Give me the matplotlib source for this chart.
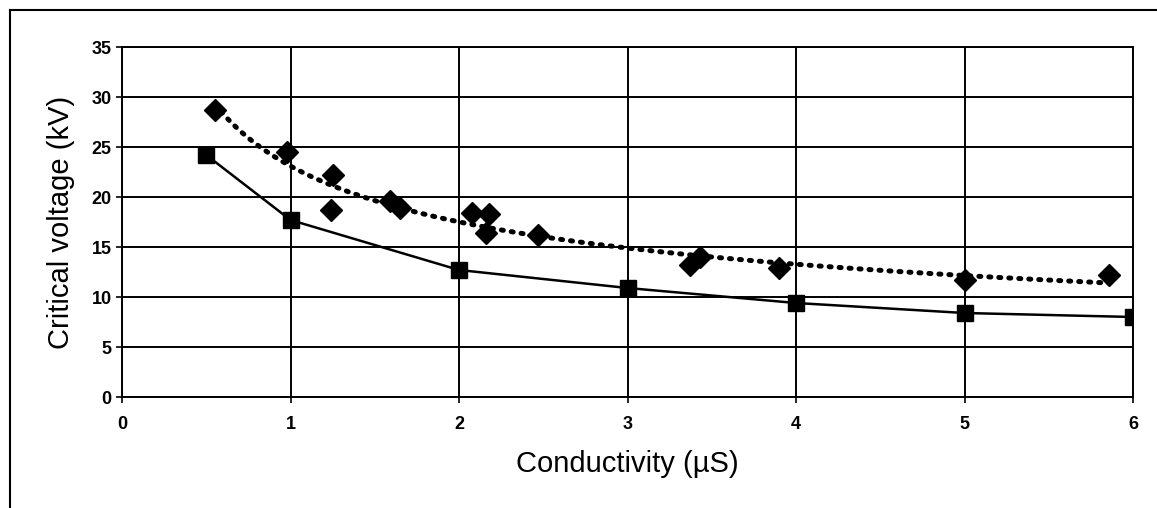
import numpy as np
import matplotlib.pyplot as plt
from matplotlib.lines import Line2D

plt.rcParams['font.family'] = ['Liberation Sans', 'DejaVu Sans']

# measured points (diamonds) and reference curve (squares)
meas_x = [0.55, 0.98, 1.25, 1.24, 1.59, 1.65, 2.08, 2.18, 2.16, 2.47, 3.37, 3.43, 3.9, 5.0, 5.86]
meas_y = [28.7, 24.5, 22.2, 18.7, 19.6, 18.9, 18.4, 18.3, 16.4, 16.2, 13.2, 14.0, 12.9, 11.7, 12.2]
ref_x = [0.5, 1, 2, 3, 4, 5, 6]
ref_y = [24.2, 17.7, 12.7, 10.9, 9.4, 8.4, 8.0]

fig = plt.figure(figsize=(11.57, 5.08), dpi=100)
ax = fig.add_axes([122/1157, 1 - 397/508, (1133-122)/1157, (397-47)/508])

# power trendline through the diamonds
b, lna = np.polyfit(np.log(meas_x), np.log(meas_y), 1)
tx = np.linspace(min(meas_x), max(meas_x), 200)
ax.plot(tx, np.exp(lna) * tx**b, color='black', lw=3.6, ls=(0, (0.4, 1.6)),
        dash_capstyle='round', zorder=3)

ax.plot(ref_x, ref_y, color='black', lw=1.8, zorder=3)
ax.plot(ref_x, ref_y, 's', color='black', ms=12, zorder=4)
ax.plot(meas_x, meas_y, 'D', color='black', ms=11, ls='none', zorder=4)

ax.set_xlim(0, 6)
ax.set_ylim(0, 35)
ax.set_xticks(range(7))
ax.set_yticks(range(0, 36, 5))
ax.grid(True, color='black', lw=1.4)
for s in ax.spines.values():
    s.set_linewidth(1.4)
ax.tick_params(labelsize=13, width=1.2, length=4, direction='out')
for lab in ax.get_xticklabels() + ax.get_yticklabels():
    lab.set_fontweight('bold')
ax.tick_params(axis='x', pad=10)
ax.set_xlabel('Conductivity (µS)', fontsize=21, labelpad=12)
ax.set_ylabel('Critical voltage (kV)', fontsize=21, labelpad=12)

# outer chart frame (top and left edges visible)
fig.add_artist(Line2D([10/1157, 1], [1 - 10/508, 1 - 10/508], color='black', lw=1.5))
fig.add_artist(Line2D([10/1157, 10/1157], [0, 1 - 10/508], color='black', lw=1.5))

fig.savefig('out.png', dpi=100)
